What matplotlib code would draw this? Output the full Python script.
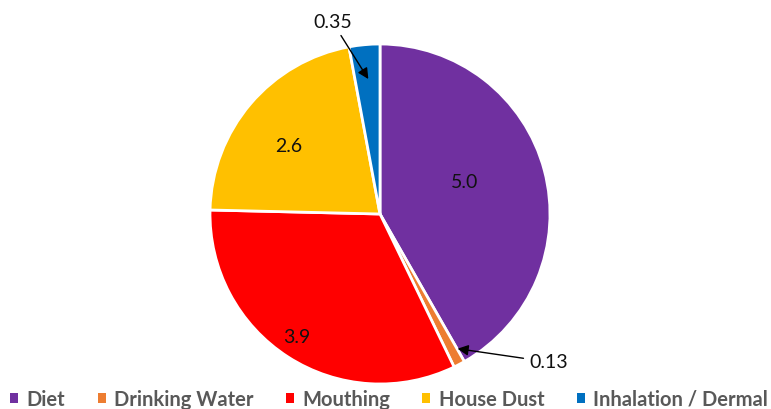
import matplotlib
matplotlib.use('Agg')

import matplotlib.pyplot as plt
from matplotlib.patches import Patch

# ── Data ─────────────────────────────────────────────────────────────────────
CATEGORIES = ['Diet', 'Drinking Water', 'Mouthing', 'House Dust', 'Inhalation / Dermal']
VALUES = [5.0, 0.13, 3.9, 2.6, 0.35]
LABELS = ['5.0', '0.13', '3.9', '2.6', '0.35']
COLORS = ['#7030A0', '#ED7D31', '#FF0000', '#FFC000', '#0070C0']

plt.rcParams['font.family'] = ['Lato', 'DejaVu Sans']


def main() -> None:
    fig = plt.figure(figsize=(7.71, 4.10), dpi=100)
    # pie centred at (380, 215) px, radius 170 px
    ax = fig.add_axes([210 / 771, 25 / 410, 340 / 771, 340 / 410])

    wedges, _ = ax.pie(VALUES, colors=COLORS, startangle=90, counterclock=False,
                       radius=1.0, wedgeprops=dict(edgecolor='white', linewidth=2))
    ax.set_xlim(-1, 1)
    ax.set_ylim(-1, 1)
    ax.set_aspect('equal')
    ax.axis('off')

    # inside labels
    inside = {0: (0.50, 0.19), 2: (-0.49, -0.72), 3: (-0.535, 0.40)}
    for i, (x, y) in inside.items():
        ax.text(x, y, LABELS[i], ha='center', va='center', fontsize=14, color='#111111')

    # callouts for small slices
    arrow = dict(arrowstyle='-|>', color='black', lw=1.0, mutation_scale=16)
    ax.annotate(LABELS[4], xy=(-0.06, 0.78), xytext=(-0.28, 1.13),
                ha='center', va='center', fontsize=14, color='#111111',
                arrowprops=arrow, annotation_clip=False)
    ax.annotate(LABELS[1], xy=(0.44, -0.79), xytext=(0.99, -0.87),
                ha='center', va='center', fontsize=14, color='#111111',
                arrowprops=arrow, annotation_clip=False)

    # ── Legend ───────────────────────────────────────────────────────────────
    handles = [Patch(facecolor=c, edgecolor='none', label=l)
               for l, c in zip(CATEGORIES, COLORS)]
    leg = fig.legend(handles=handles, loc='center', ncol=5,
                     bbox_to_anchor=(389 / 771, 10 / 410), frameon=False,
                     handlelength=0.4, handleheight=0.4, handletextpad=0.4,
                     columnspacing=1.62, borderaxespad=0, borderpad=0,
                     prop=dict(size=14.5, weight='bold'))
    for t in leg.get_texts():
        t.set_color('#595959')

    fig.savefig('out.png', dpi=100, facecolor='white')
    plt.close(fig)


if __name__ == "__main__":
    main()
